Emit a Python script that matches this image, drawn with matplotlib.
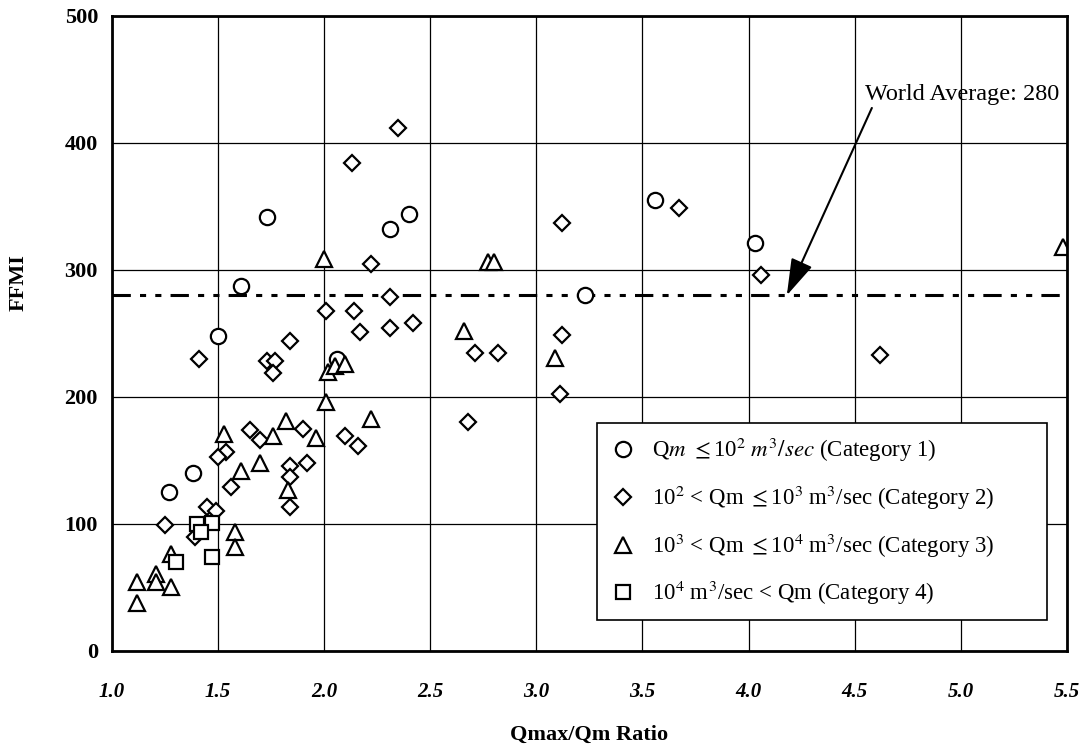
import matplotlib
matplotlib.use("Agg")
import matplotlib.pyplot as plt

# Qmax/Qm ratio vs FFMI
cat1_x = [1.73, 1.61, 1.50, 1.38, 1.27, 2.40, 2.31, 2.06, 3.23, 3.56, 4.03]
cat1_y = [342, 287, 248, 140, 125, 344, 332, 230, 280, 355, 321]

cat2_x = [2.35, 2.13, 3.12, 3.67, 2.22, 2.31, 2.01, 2.14, 2.17, 2.31, 2.42,
          1.84, 1.41, 1.73, 1.77, 1.76, 2.71, 2.82, 3.12, 3.11, 2.10, 2.16,
          2.68, 4.06, 4.62, 1.65, 1.70, 1.54, 1.50, 1.84, 1.84, 1.84, 1.56,
          1.45, 1.49, 1.25, 1.39, 1.90, 1.92]
cat2_y = [412, 384, 337, 349, 305, 279, 268, 268, 251, 254, 258,
          244, 230, 228, 228, 219, 235, 235, 249, 202, 169, 161,
          180, 296, 233, 174, 166, 157, 153, 146, 137, 113, 129,
          113, 110, 99, 90, 175, 148]

cat3_x = [2.00, 2.77, 2.80, 2.66, 3.09, 5.48, 2.01, 2.22, 2.02, 2.05, 2.10,
          1.82, 1.53, 1.76, 1.61, 1.70, 1.83, 1.58, 1.58, 1.28, 1.21, 1.21,
          1.28, 1.12, 1.12, 1.96]
cat3_y = [309, 306, 306, 252, 231, 318, 196, 183, 220, 224, 226,
          181, 171, 169, 142, 148, 127, 94, 82, 76, 61, 54,
          50, 54, 38, 168]

cat4_x = [1.40, 1.47, 1.42, 1.47, 1.30]
cat4_y = [100, 101, 94, 74, 70]

world_avg = 280
x_ticks = [1.0, 1.5, 2.0, 2.5, 3.0, 3.5, 4.0, 4.5, 5.0, 5.5]
y_ticks = [0, 100, 200, 300, 400, 500]

labels = [r"Q$\mathit{m}$ $\leq$10$^2$ $\mathit{m}^3\mathit{/sec}$ (Category 1)",
          r"10$^2$ < Qm $\leq$10$^3$ m$^3$/sec (Category 2)",
          r"10$^3$ < Qm $\leq$10$^4$ m$^3$/sec (Category 3)",
          r"10$^4$ m$^3$/sec < Qm (Category 4)"]

plt.rcParams["font.family"] = ["Liberation Serif", "DejaVu Serif"]
plt.rcParams["mathtext.fontset"] = "stix"

fig = plt.figure(figsize=(10.86, 7.48), dpi=100)
ax = fig.add_axes([0.103, 0.1297, 0.8795, 0.849])

mk = dict(linestyle="none", markerfacecolor="white", markeredgecolor="black",
          markeredgewidth=1.6)
ax.plot(cat1_x, cat1_y, marker="o", markersize=11, label=labels[0], **mk)
ax.plot(cat2_x, cat2_y, marker="D", markersize=8.5, label=labels[1], **mk)
ax.plot(cat3_x, cat3_y, marker="^", markersize=12, label=labels[2], **mk)
ax.plot(cat4_x, cat4_y, marker="s", markersize=10, label=labels[3], **mk)

ax.axhline(world_avg, color="black", lw=2.2, dashes=(6, 3, 2, 3, 2, 3), zorder=1)
ax.annotate("World Average: 280", xy=(4.18, world_avg), xytext=(4.55, 438),
            fontsize=17.5, va="center", ha="left",
            arrowprops=dict(arrowstyle="-|>,head_length=1.3,head_width=0.4",
                            color="black", lw=1.5, shrinkA=0, shrinkB=0,
                            relpos=(0.04, 0.0)))

ax.set_xlim(1.0, 5.5)
ax.set_ylim(0, 500)
ax.set_xticks(x_ticks)
ax.set_yticks(y_ticks)
ax.set_xticklabels([f"{t:.1f}" for t in x_ticks], fontsize=15,
                   fontweight="bold", fontstyle="italic")
ax.set_yticklabels([str(t) for t in y_ticks], fontsize=16, fontweight="bold")
ax.tick_params(axis="x", length=0, pad=22)
ax.tick_params(axis="y", length=0, pad=10)
ax.grid(True, color="black", lw=0.9)
ax.set_axisbelow(True)
for s in ax.spines.values():
    s.set_linewidth(2)

ax.set_xlabel("Qmax/Qm Ratio", fontsize=16, fontweight="bold", labelpad=17)
ax.set_ylabel("FFMI", fontsize=16, fontweight="bold", labelpad=18)
ax.yaxis.set_label_coords(-0.087, 0.58)

leg = ax.legend(loc="lower left", bbox_to_anchor=(0.508, 0.049, 0.471, 0.31),
                mode="expand", fontsize=16.5,
                frameon=True, fancybox=False, framealpha=1, edgecolor="black",
                labelspacing=0.85, handletextpad=0.65, handlelength=1.2,
                borderpad=0.55, borderaxespad=0)
leg.get_frame().set_linewidth(1.2)

fig.savefig("out.png", dpi=100)
